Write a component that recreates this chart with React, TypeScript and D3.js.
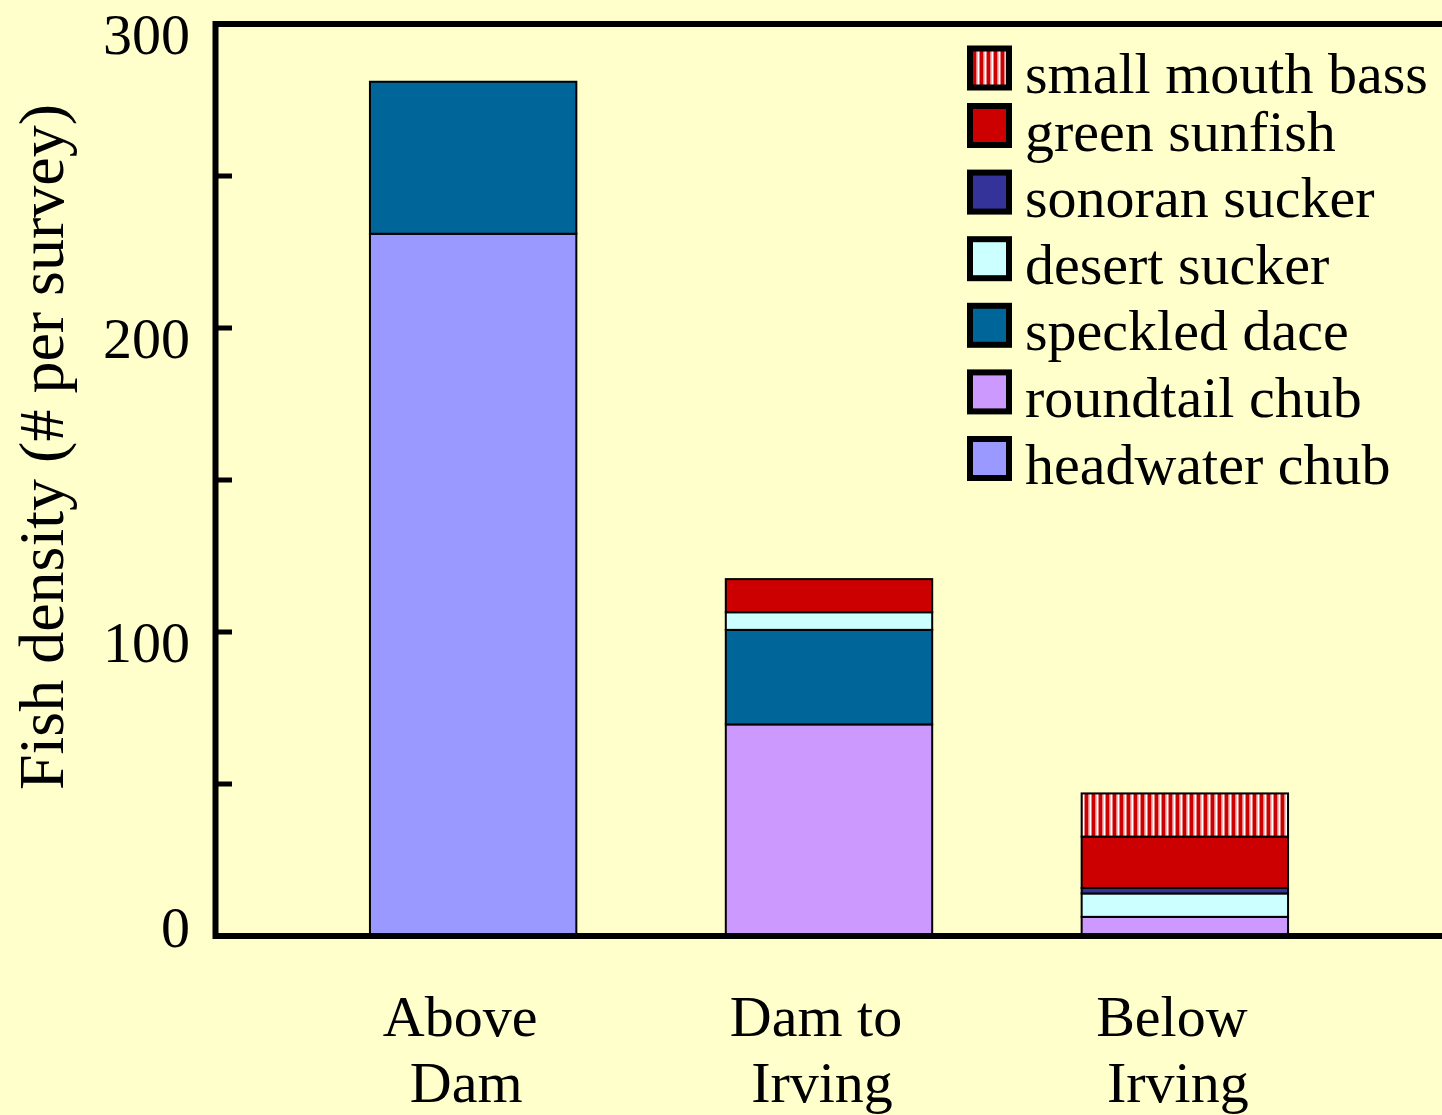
import React from "react";
import * as d3 from "d3";

const categories = ["Above Dam", "Dam to Irving", "Below Irving"];
const categoryLines = [["Above", "Dam"], ["Dam to", "Irving"], ["Below", "Irving"]];
const species = [
  "headwater chub",
  "roundtail chub",
  "speckled dace",
  "desert sucker",
  "sonoran sucker",
  "green sunfish",
  "small mouth bass",
];
const headwaterChub = [231, 0, 0];
const roundtailChub = [0, 69.6, 6.3];
const speckledDace = [50, 31.1, 0];
const desertSucker = [0, 5.8, 7.7];
const sonoranSucker = [0, 0, 1.8];
const greenSunfish = [0, 10.9, 16.9];
const smallMouthBass = [0, 0, 14.2];
const seriesValues = [headwaterChub, roundtailChub, speckledDace, desertSucker, sonoranSucker, greenSunfish, smallMouthBass];
const speciesColors = ["#9999FF", "#CC99FF", "#006699", "#CCFFFF", "#333399", "#CC0000", "url(#smbStripes)"];
const yTicks = [0, 50, 100, 150, 200, 250, 300];
const yLabelTicks = [0, 100, 200, 300];
const yTitle = "Fish density (# per survey)";

const W = 1442;
const H = 1115;
const FONT = "'Liberation Serif', 'Times New Roman', serif";

export default function App() {
  const left = 215.5;
  const top = 24;
  const bottom = 936;
  const right = 1442.5;

  const y = d3.scaleLinear().domain([0, 300]).range([bottom, top]);
  const x = d3
    .scaleBand<string>()
    .domain(categories)
    .range([left, right])
    .paddingInner(0.42)
    .paddingOuter(0.434);

  const rows = categories.map((c, i) => {
    const r: Record<string, any> = { cat: c };
    species.forEach((s, j) => (r[s] = seriesValues[j][i]));
    return r;
  });
  const stacked = d3.stack<any>().keys(species)(rows);

  const legendOrder = species.map((s, i) => i).reverse();
  const legendY = (k: number) => (k === 0 ? 68 : 125.5 + (k - 1) * 66.6);

  return (
    <svg
      width={W}
      height={H}
      style={{ position: "absolute", left: 0, top: 0, display: "block", background: "#FFFFCC" }}
      fontFamily={FONT}
    >
      <defs>
        <pattern id="smbStripes" patternUnits="userSpaceOnUse" width={7} height={10}>
          <rect x={0} y={0} width={7} height={10} fill="#FFFFFF" />
          <rect x={0} y={0} width={3.5} height={10} fill="#CC0000" />
          <rect x={3.5} y={0} width={1} height={10} fill="#E88080" />
          <rect x={6} y={0} width={1} height={10} fill="#E88080" />
        </pattern>
      </defs>
      <rect x={0} y={0} width={W} height={H} fill="#FFFFCC" />

      {/* bars */}
      {stacked.map((layer, j) => (
        <g key={species[j]}>
          {layer.map((d, i) => {
            const h = y(d[0]) - y(d[1]);
            if (h <= 0) return null;
            return (
              <rect
                key={i}
                x={x(categories[i])!}
                y={y(d[1])}
                width={x.bandwidth()}
                height={h}
                fill={speciesColors[j]}
                stroke="#000"
                strokeWidth={2}
              />
            );
          })}
        </g>
      ))}

      {/* frame */}
      <path
        d={`M${right + 10},${top} H${left} V${bottom} H${right + 10}`}
        fill="none"
        stroke="#000"
        strokeWidth={6}
      />

      {/* ticks */}
      {yTicks.map((t) => (
        <line key={t} x1={left} x2={232} y1={y(t)} y2={y(t)} stroke="#000" strokeWidth={5} />
      ))}
      {yLabelTicks.map((t) => (
        <text
          key={t}
          x={190}
          y={y(t) + (t === 0 ? 11 : 30)}
          textAnchor="end"
          fontSize={58}
          fill="#000"
        >
          {t}
        </text>
      ))}

      {/* y title */}
      <text
        transform={`translate(63,447) rotate(-90)`}
        textAnchor="middle"
        fontSize={64}
        fill="#000"
      >
        {yTitle}
      </text>

      {/* x labels */}
      {categories.map((c, i) => {
        const cx = x(c)! + x.bandwidth() / 2;
        return (
          <g key={c}>
            <text x={cx - 13} y={1036} textAnchor="middle" fontSize={58} fill="#000">
              {categoryLines[i][0]}
            </text>
            <text x={cx - 7} y={1102} textAnchor="middle" fontSize={58} fill="#000">
              {categoryLines[i][1]}
            </text>
          </g>
        );
      })}

      {/* legend */}
      {legendOrder.map((j, k) => {
        const cy = legendY(k);
        return (
          <g key={species[j]}>
            <rect
              x={970}
              y={cy - 19.5}
              width={39}
              height={39}
              fill={speciesColors[j]}
              stroke="#000"
              strokeWidth={6}
            />
            <text x={1025} y={cy + 25} fontSize={58} fill="#000">
              {species[j]}
            </text>
          </g>
        );
      })}
    </svg>
  );
}
